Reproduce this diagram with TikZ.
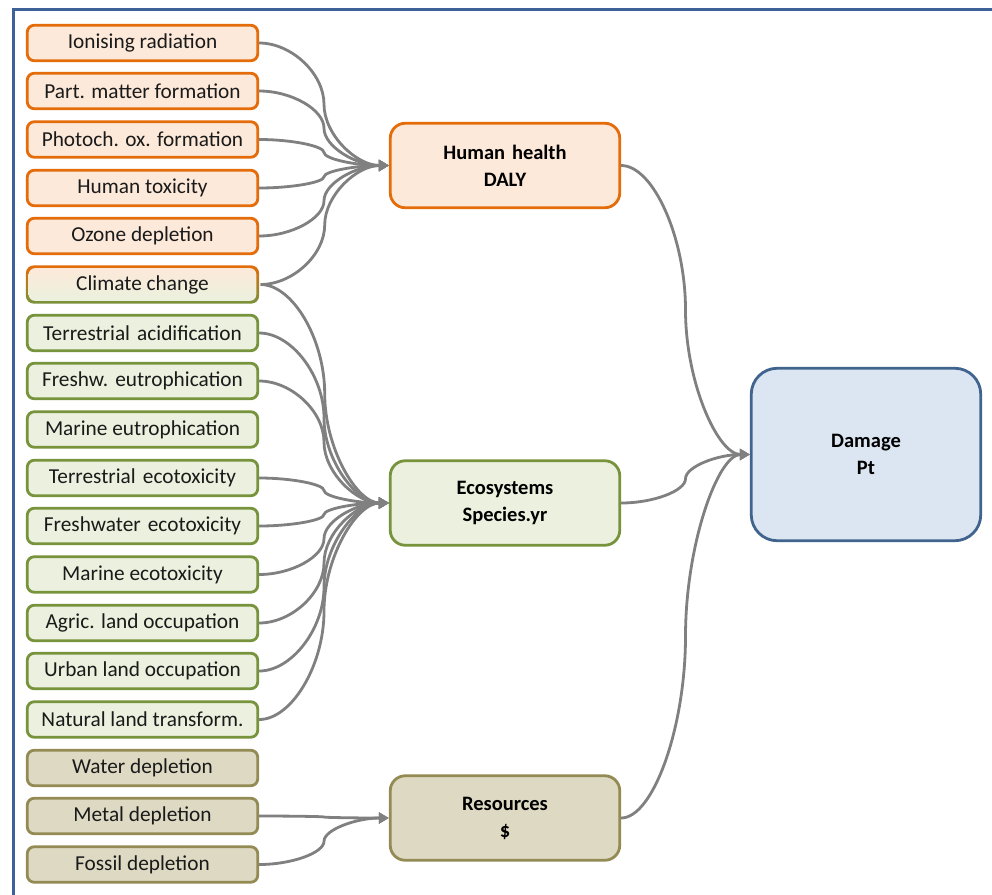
\documentclass[tikz,border=0pt]{standalone}
\usepackage{fontspec}
\setmainfont{Carlito}
\usetikzlibrary{calc,arrows.meta}
\definecolor{orB}{HTML}{E46C0A}
\definecolor{orF}{HTML}{FDE9D9}
\definecolor{grB}{HTML}{77933C}
\definecolor{grF}{HTML}{EBF1DE}
\definecolor{tnB}{HTML}{948A54}
\definecolor{tnF}{HTML}{DDD9C3}
\definecolor{blB}{HTML}{41648F}
\definecolor{blF}{HTML}{DCE6F2}
\definecolor{frameC}{HTML}{3E6297}
\definecolor{lineC}{HTML}{808080}
\definecolor{txtC}{HTML}{1A1A1A}
\tikzset{
  small/.style={rounded corners=7pt, line width=2.8pt, minimum width=230.5pt, minimum height=35.5pt, inner sep=0pt, text=txtC, font=\fontsize{21.3}{25}\selectfont},
  oritem/.style={small, draw=orB, fill=orF},
  gritem/.style={small, draw=grB, fill=grF},
  tnitem/.style={small, draw=tnB, fill=tnF},
  mid/.style={rounded corners=15pt, line width=2.8pt, minimum width=229.5pt, minimum height=84.5pt, inner sep=0pt, align=center, font=\fontsize{20.5}{27}\selectfont\bfseries},
  conn/.style={draw=lineC, line width=2.8pt, -{Triangle[length=10pt,width=11pt]}},
}
\newcommand\linkto[2]{\draw[conn] let \p1=(#1.east), \p2=(#2.west), \p3=($(\p1)!0.5!(\p2)$), \p4=($(\p1)!0.5!(\p3)$), \p5=($(\p3)!0.5!(\p2)$) in (\p1) .. controls (\x4,\y1) and (\x3,\y4) .. (\p3) .. controls (\x3,\y5) and (\x5,\y2) .. (\p2);}
\begin{document}
\begin{tikzpicture}[x=1pt,y=-1pt]
\useasboundingbox[fill=white] (0,0) rectangle (992,894);
\draw[frameC, line width=3pt] (995,9.5) -- (13.5,9.5) -- (13.5,897);
% left column
\node[oritem] (ir) at (142.5,43) {Ionising radiation};
\node[oritem] (pm) at (142.5,91) {Part. matter formation};
\node[oritem] (po) at (142.5,139.5) {Photoch. ox. formation};
\node[oritem] (ht) at (142.5,188) {Human toxicity};
\node[oritem] (od) at (142.5,236) {Ozone depletion};
\node[small, minimum width=233.3pt, minimum height=38.3pt, rounded corners=8pt, top color=orB, bottom color=grB] (cc) at (142.5,284.5) {};
\node[small, rounded corners=6.5pt, minimum width=227.7pt, minimum height=32.7pt, top color=orF, bottom color=grF] (cctext) at (142.5,284.5) {Climate change};
\node[gritem] (ta) at (142.5,333) {Terrestrial\,\,acidification};
\node[gritem] (fe) at (142.5,381) {Freshw.\,\,eutrophication};
\node[gritem] (me) at (142.5,429.5) {Marine eutrophication};
\node[gritem] (te) at (142.5,478) {Terrestrial\,\,ecotoxicity};
\node[gritem] (fx) at (142.5,526) {Freshwater\,\,ecotoxicity};
\node[gritem] (mx) at (142.5,574.5) {Marine ecotoxicity};
\node[gritem] (ag) at (142.5,623) {Agric. land occupation};
\node[gritem] (ul) at (142.5,671) {Urban land occupation};
\node[gritem] (nl) at (142.5,719.5) {Natural land transform.};
\node[tnitem] (wd) at (142.5,768) {Water depletion};
\node[tnitem] (md) at (142.5,816) {Metal depletion};
\node[tnitem] (fd) at (142.5,864.5) {Fossil depletion};
% middle
\node[mid, draw=orB, fill=orF] (hh) at (505,165.5) {Human\,\,health\\DALY};
\node[mid, draw=grB, fill=grF] (eco) at (505,503) {Ecosystems\\Species.yr};
\node[mid, draw=tnB, fill=tnF] (res) at (505,818) {Resources\\\$};
\node[mid, rounded corners=26pt, draw=blB, fill=blF, minimum height=172.5pt] (dmg) at (866,454.5) {Damage\\Pt};
% connectors
\foreach \s in {ir,pm,po,ht,od,cc} {\linkto{\s}{hh}}
\foreach \s in {cc,ta,fe,te,fx,mx,ag,ul,nl} {\linkto{\s}{eco}}
\foreach \s in {md,fd} {\linkto{\s}{res}}
\foreach \s in {hh,eco,res} {\linkto{\s}{dmg}}
\end{tikzpicture}
\end{document}
